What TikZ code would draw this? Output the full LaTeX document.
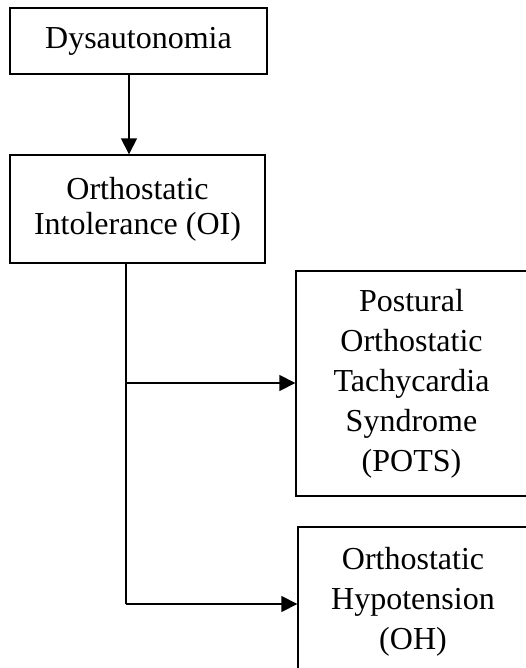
\documentclass[tikz,border=0pt]{standalone}
\usepackage{fontspec}
\setmainfont{Liberation Serif}
\usetikzlibrary{arrows.meta, positioning}

\tikzset{
  box/.style={draw, line width=1.4pt, rectangle, inner sep=0pt, align=center,
    font=\fontsize{32}{40}\selectfont},
  link/.style={line width=1.6pt},
  arrow/.style={link, -{Triangle[length=16pt, width=16pt]}}
}

\begin{document}
\begin{tikzpicture}[x=1pt, y=-1pt]
  \useasboundingbox (0,0) rectangle (525,668);
  % Boxes
  \node[box, minimum width=257pt, minimum height=66pt] (dys) at (138.5,41) {Dysautonomia};
  \node[box, minimum width=255pt, minimum height=108pt,
    font=\fontsize{32}{35}\selectfont] (oi) at (137.5,209) {Orthostatic\\Intolerance (OI)};
  \node[box, minimum width=231pt, minimum height=225pt] (pots) at (411.5,383.5)
    {Postural\\Orthostatic\\Tachycardia\\Syndrome\\(POTS)};
  \node[box, minimum width=230pt, minimum height=150pt] (oh) at (413,602)
    {Orthostatic\\Hypotension\\(OH)};
  % Branch points
  \coordinate (b1) at (126,383);
  \coordinate (b2) at (126,604);
  % Connectors
  \draw[arrow] ([xshift=-9.5pt]dys.south) -- ([xshift=-8.5pt]oi.north);
  \draw[link] (oi.south -| b1) -- (b2);
  \draw[arrow] (b1) -- (b1 -| pots.west);
  \draw[arrow] (b2) -- (b2 -| oh.west);
\end{tikzpicture}
\end{document}
